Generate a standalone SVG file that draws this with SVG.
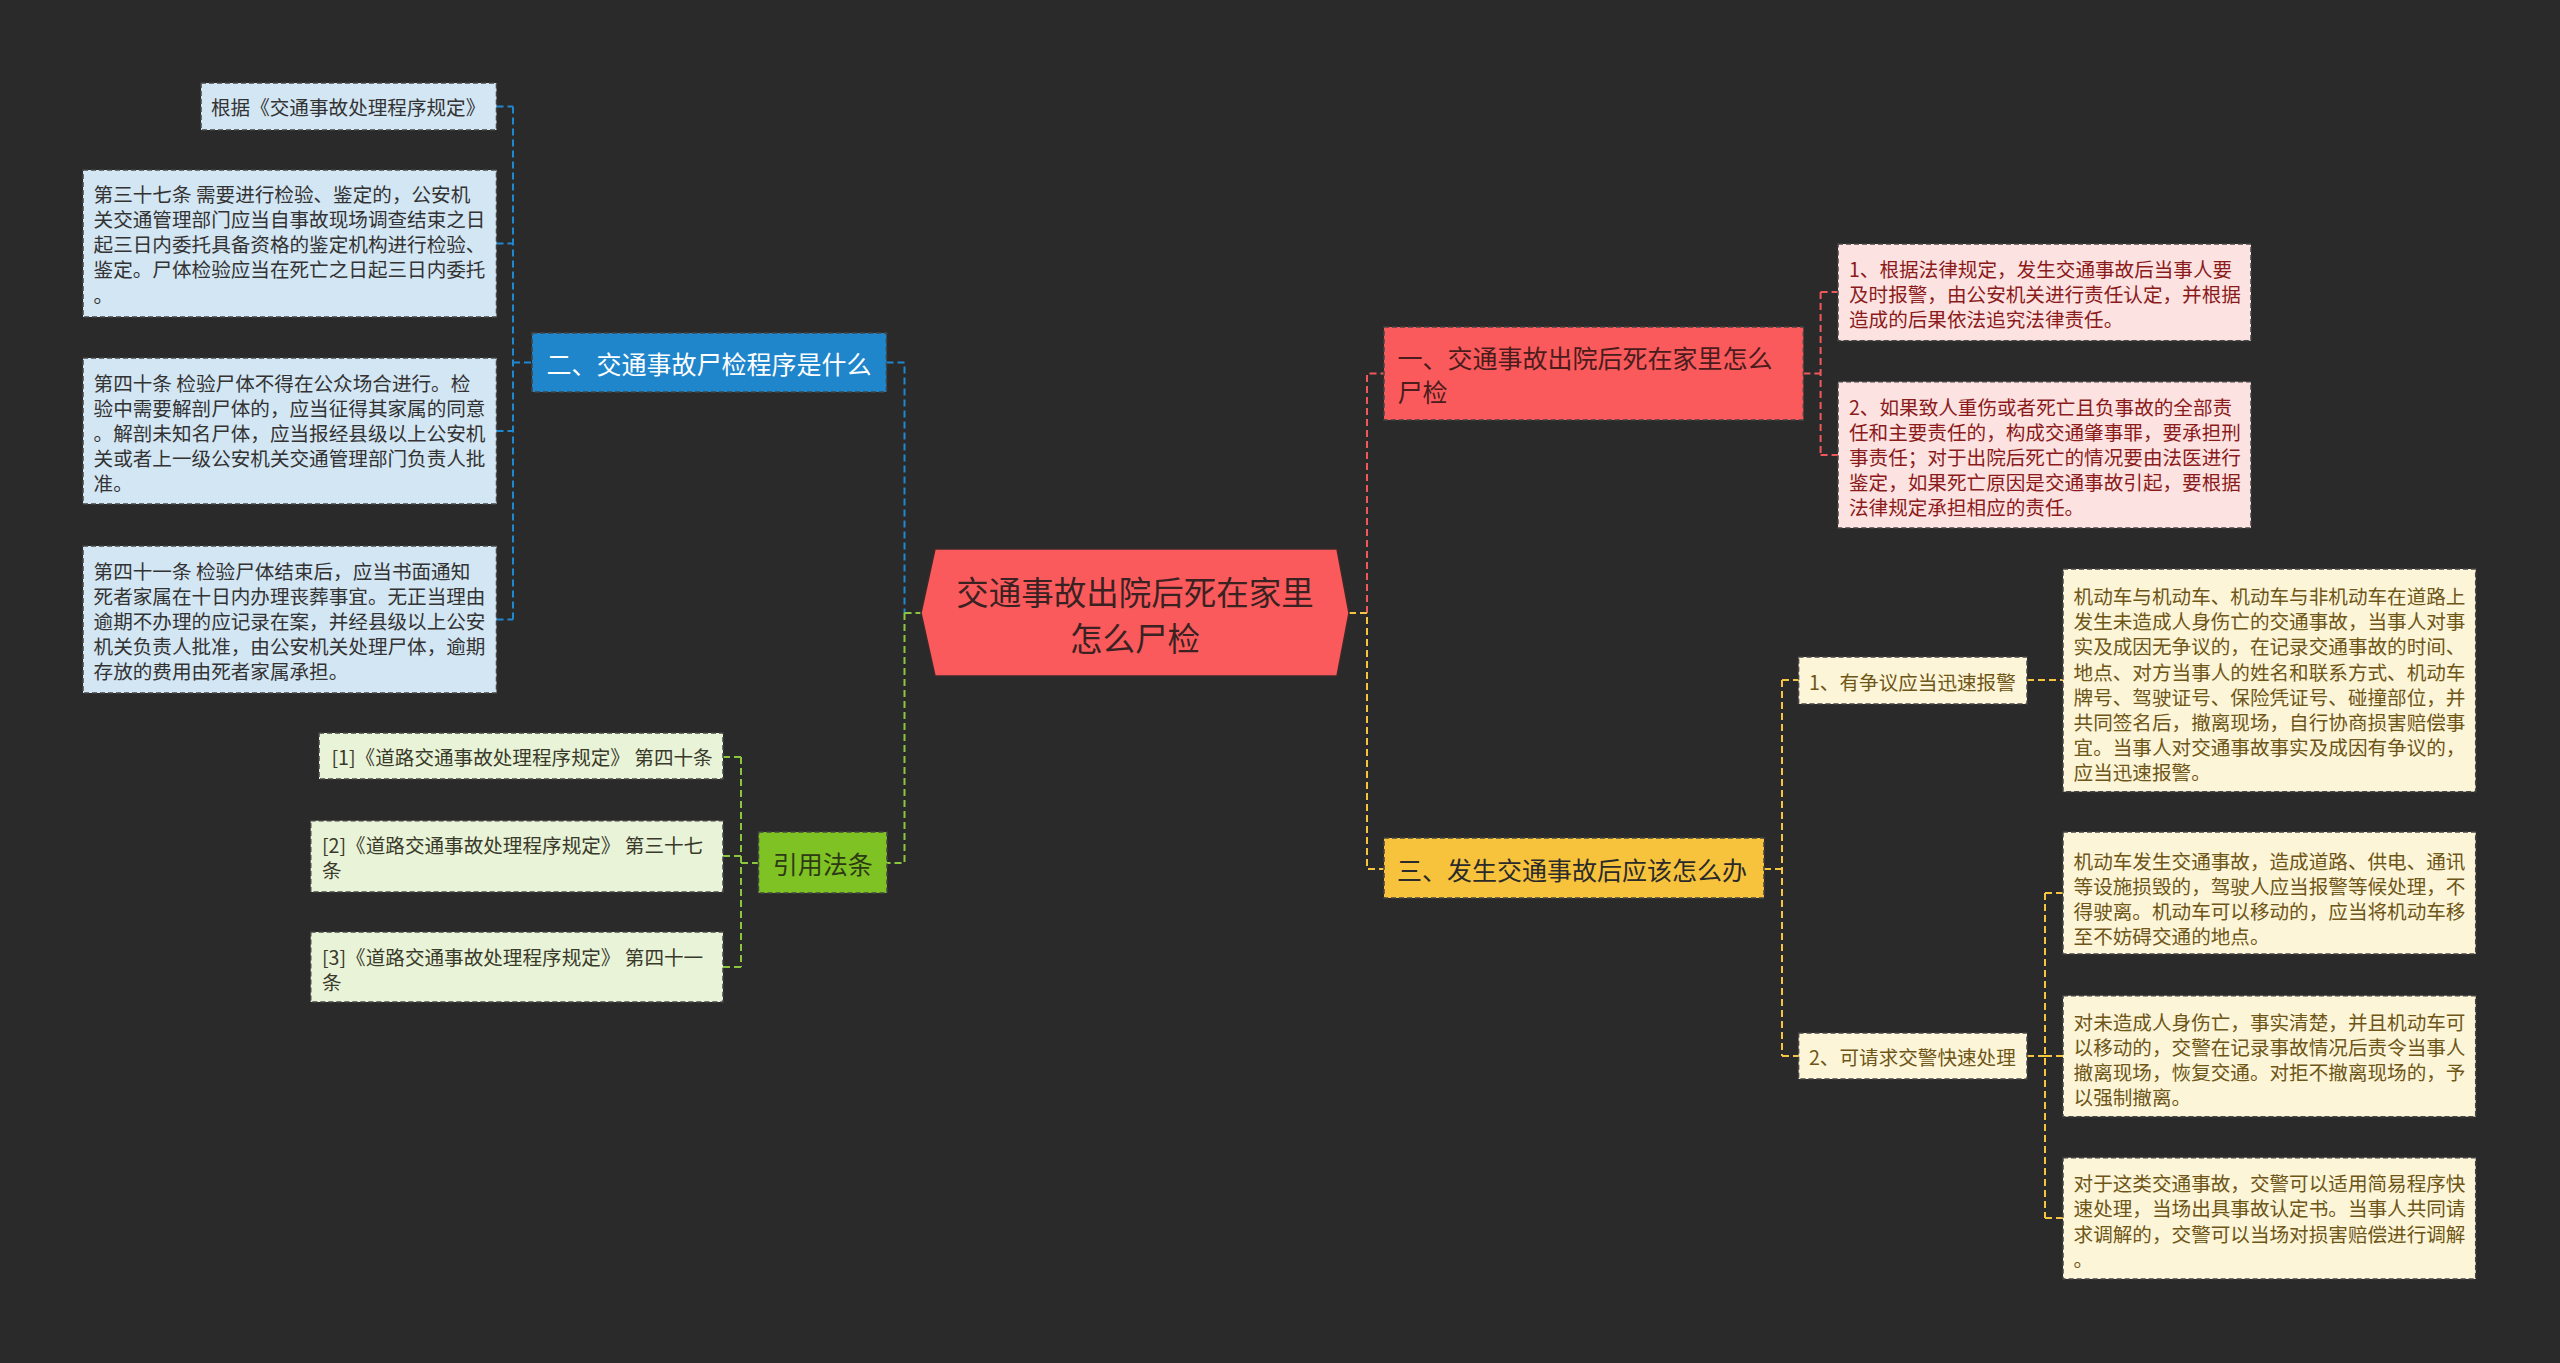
<svg xmlns="http://www.w3.org/2000/svg" width="2560" height="1363" viewBox="0 0 2560 1363">
<style>
text{font-family:"Noto Sans CJK SC","Noto Sans",sans-serif;dominant-baseline:central}
.s{font-size:19.6px}
.m{font-size:25px}
.box{stroke:#444;stroke-width:1.5;stroke-dasharray:5 3}
.bd{fill:#d3e6f3}.bt{fill:#333}
.gd{fill:#e8f3d8}.gt{fill:#3a3a2a}
.pd{fill:#fde2e2}.pt{fill:#8b1b1b}
.yd{fill:#fdf5d7}.yt{fill:#6e5618}
.c{fill:none;stroke-width:2;stroke-dasharray:7 4}
</style>
<rect width="2560" height="1363" fill="#2a2a2a"/>
<g id="connectors">
<path class="c" stroke="#1e88d0" d="M496.5,106.5H513M496.5,243.5H513M496.5,431H513M496.5,619.5H513M513,106.5V619.5M513,362.5H532M886.5,362.5H904.5V613"/>
<path class="c" stroke="#8cc63f" d="M904.5,613H921M904.5,613V863H887M741,757V967M723,757H741M723,856H741M723,967H741M741,863H758.5"/>
<path class="c" stroke="#f0585b" d="M1367,613V373.5H1384M1803.4,373.5H1820.6M1820.6,292V455M1820.6,292H1838M1820.6,455H1838"/>
<path class="c" stroke="#f5c542" d="M1349,613H1367V869H1384M1764,869H1782M1782,680V1056M1782,680H1798.6M1782,1056H1798.6M2027,680H2063M2027,1056H2045M2045,893V1218M2045,893H2063M2045,1056H2063M2045,1218H2063"/>
</g>
<g id="center">
<polygon points="935,549 1337,549 1349,613 1337,676 935,676 921,613" fill="#fa5a5c" stroke="#3a2a2a" stroke-width="1.5"/>
<text x="1135" y="590" font-size="32.5" text-anchor="middle" fill="#3a2222">交通事故出院后死在家里</text>
<text x="1135" y="636" font-size="32.5" text-anchor="middle" fill="#3a2222">怎么尸检</text>
</g>
<g id="n-blue">
<rect x="532" y="333" width="354.5" height="59" fill="#1f86cc" class="box" stroke="#1a3a55"/>
<text x="709" y="362.5" class="m" text-anchor="middle" fill="#ffffff">二、交通事故尸检程序是什么</text>
</g>
<g id="a1">
<rect x="201" y="83" width="295.5" height="47" class="box bd"/>
<text x="211" y="106.5" class="s bt">根据《交通事故处理程序规定》</text>
</g>
<g id="a2">
<rect x="83" y="170" width="413.5" height="147" class="box bd"/>
<text x="93.6" y="193" class="s bt">第三十七条 需要进行检验、鉴定的，公安机</text>
<text x="93.6" y="218.3" class="s bt">关交通管理部门应当自事故现场调查结束之日</text>
<text x="93.6" y="243.6" class="s bt">起三日内委托具备资格的鉴定机构进行检验、</text>
<text x="93.6" y="268.9" class="s bt">鉴定。尸体检验应当在死亡之日起三日内委托</text>
<text x="93.6" y="294.2" class="s bt">。</text>
</g>
<g id="a3">
<rect x="83" y="358" width="413.5" height="146" class="box bd"/>
<text x="93.6" y="382.5" class="s bt">第四十条 检验尸体不得在公众场合进行。检</text>
<text x="93.6" y="407.5" class="s bt">验中需要解剖尸体的，应当征得其家属的同意</text>
<text x="93.6" y="432.5" class="s bt">。解剖未知名尸体，应当报经县级以上公安机</text>
<text x="93.6" y="457.5" class="s bt">关或者上一级公安机关交通管理部门负责人批</text>
<text x="93.6" y="482.5" class="s bt">准。</text>
</g>
<g id="a4">
<rect x="83" y="546" width="413.5" height="147" class="box bd"/>
<text x="93.6" y="570" class="s bt">第四十一条 检验尸体结束后，应当书面通知</text>
<text x="93.6" y="595.2" class="s bt">死者家属在十日内办理丧葬事宜。无正当理由</text>
<text x="93.6" y="620.4" class="s bt">逾期不办理的应记录在案，并经县级以上公安</text>
<text x="93.6" y="645.6" class="s bt">机关负责人批准，由公安机关处理尸体，逾期</text>
<text x="93.6" y="670.8" class="s bt">存放的费用由死者家属承担。</text>
</g>
<g id="n-green">
<rect x="758.5" y="832" width="128.5" height="61" fill="#7fc224" class="box" stroke="#3d5a12"/>
<text x="822.7" y="862.5" class="m" text-anchor="middle" fill="#2d3a14">引用法条</text>
</g>
<g id="c1">
<rect x="319" y="733" width="404" height="46" class="box gd"/>
<text x="331.5" y="756" class="s gt">[1]《道路交通事故处理程序规定》 第四十条</text>
</g>
<g id="c2">
<rect x="310.7" y="820.7" width="412.3" height="71.3" class="box gd"/>
<text x="322" y="844.5" class="s gt">[2]《道路交通事故处理程序规定》 第三十七</text>
<text x="322" y="869.5" class="s gt">条</text>
</g>
<g id="c3">
<rect x="310.7" y="932" width="412.3" height="70" class="box gd"/>
<text x="322" y="956.5" class="s gt">[3]《道路交通事故处理程序规定》 第四十一</text>
<text x="322" y="981.5" class="s gt">条</text>
</g>
<g id="n-red">
<rect x="1384" y="327" width="419.4" height="93" fill="#fa5a5c" class="box" stroke="#5a2020"/>
<text x="1397.5" y="357" class="m" fill="#4a1c1c">一、交通事故出院后死在家里怎么</text>
<text x="1397.5" y="391" class="m" fill="#4a1c1c">尸检</text>
</g>
<g id="r1">
<rect x="1838" y="244" width="413" height="96.7" class="box pd"/>
<text x="1849" y="268" class="s pt">1、根据法律规定，发生交通事故后当事人要</text>
<text x="1849" y="293" class="s pt">及时报警，由公安机关进行责任认定，并根据</text>
<text x="1849" y="318" class="s pt">造成的后果依法追究法律责任。</text>
</g>
<g id="r2">
<rect x="1838" y="381.7" width="413" height="146.3" class="box pd"/>
<text x="1849" y="406.7" class="s pt">2、如果致人重伤或者死亡且负事故的全部责</text>
<text x="1849" y="431.7" class="s pt">任和主要责任的，构成交通肇事罪，要承担刑</text>
<text x="1849" y="456.7" class="s pt">事责任；对于出院后死亡的情况要由法医进行</text>
<text x="1849" y="481.7" class="s pt">鉴定，如果死亡原因是交通事故引起，要根据</text>
<text x="1849" y="506.7" class="s pt">法律规定承担相应的责任。</text>
</g>
<g id="n-yellow">
<rect x="1384" y="838" width="380" height="60" fill="#f7c33d" class="box" stroke="#5a4a12"/>
<text x="1397" y="869" class="m" fill="#2a2a2a">三、发生交通事故后应该怎么办</text>
</g>
<g id="y1">
<rect x="1798.6" y="657" width="228.4" height="47" class="box yd"/>
<text x="1809" y="681" class="s yt">1、有争议应当迅速报警</text>
</g>
<g id="y1a">
<rect x="2063" y="569" width="412.7" height="222.7" class="box yd"/>
<text x="2073.6" y="595.5" class="s yt">机动车与机动车、机动车与非机动车在道路上</text>
<text x="2073.6" y="620.7" class="s yt">发生未造成人身伤亡的交通事故，当事人对事</text>
<text x="2073.6" y="645.9" class="s yt">实及成因无争议的，在记录交通事故的时间、</text>
<text x="2073.6" y="671.1" class="s yt">地点、对方当事人的姓名和联系方式、机动车</text>
<text x="2073.6" y="696.3" class="s yt">牌号、驾驶证号、保险凭证号、碰撞部位，并</text>
<text x="2073.6" y="721.5" class="s yt">共同签名后，撤离现场，自行协商损害赔偿事</text>
<text x="2073.6" y="746.7" class="s yt">宜。当事人对交通事故事实及成因有争议的，</text>
<text x="2073.6" y="771.9" class="s yt">应当迅速报警。</text>
</g>
<g id="y2">
<rect x="1798.6" y="1033" width="228.4" height="46" class="box yd"/>
<text x="1809" y="1056" class="s yt">2、可请求交警快速处理</text>
</g>
<g id="y2a">
<rect x="2063" y="832" width="412.7" height="122" class="box yd"/>
<text x="2073.6" y="860" class="s yt">机动车发生交通事故，造成道路、供电、通讯</text>
<text x="2073.6" y="885" class="s yt">等设施损毁的，驾驶人应当报警等候处理，不</text>
<text x="2073.6" y="910" class="s yt">得驶离。机动车可以移动的，应当将机动车移</text>
<text x="2073.6" y="935" class="s yt">至不妨碍交通的地点。</text>
</g>
<g id="y2b">
<rect x="2063" y="995.7" width="412.7" height="121" class="box yd"/>
<text x="2073.6" y="1021.7" class="s yt">对未造成人身伤亡，事实清楚，并且机动车可</text>
<text x="2073.6" y="1046.7" class="s yt">以移动的，交警在记录事故情况后责令当事人</text>
<text x="2073.6" y="1071.7" class="s yt">撤离现场，恢复交通。对拒不撤离现场的，予</text>
<text x="2073.6" y="1096.7" class="s yt">以强制撤离。</text>
</g>
<g id="y2c">
<rect x="2063" y="1157.7" width="412.7" height="121.3" class="box yd"/>
<text x="2073.6" y="1182.7" class="s yt">对于这类交通事故，交警可以适用简易程序快</text>
<text x="2073.6" y="1207.9" class="s yt">速处理，当场出具事故认定书。当事人共同请</text>
<text x="2073.6" y="1233.1" class="s yt">求调解的，交警可以当场对损害赔偿进行调解</text>
<text x="2073.6" y="1258.3" class="s yt">。</text>
</g>
</svg>
